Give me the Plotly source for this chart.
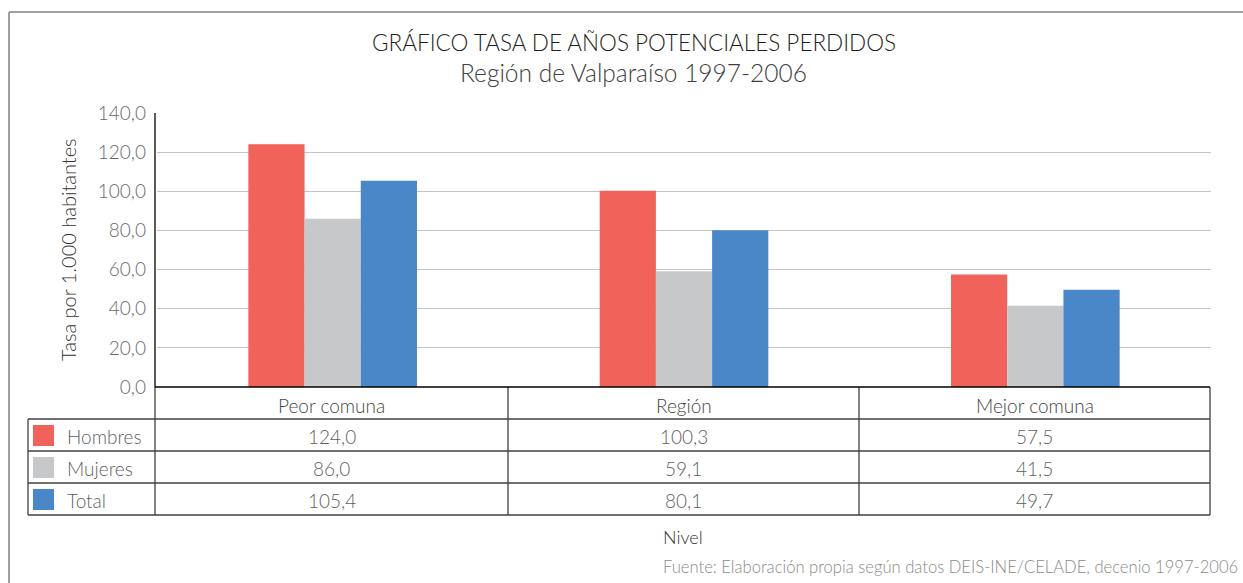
import plotly.graph_objects as go

categories = ["Peor comuna", "Región", "Mejor comuna"]
series_names = ["Hombres", "Mujeres", "Total"]
hombres = [124.0, 100.3, 57.5]
mujeres = [86.0, 59.1, 41.5]
total = [105.4, 80.1, 49.7]
series_values = [hombres, mujeres, total]
colors = ["#F1625A", "#C7C8CA", "#4A87C8"]
y_ticks = [0, 20, 40, 60, 80, 100, 120, 140]

W, H = 1243, 583
L, R, T, B = 157, 1211, 113, 387
FONT = "Lato"
TXT = "#5f5f5f"
LINE = "#404040"

def px(x):
    return (x - L) / (R - L)

def py(y):
    return (B - y) / (B - T)

def fmt(v):
    return f"{v:.1f}".replace(".", ",")

fig = go.Figure()
for name, vals, col in zip(series_names, series_values, colors):
    fig.add_trace(go.Bar(x=categories, y=vals, name=name, marker_color=col,
                         marker_line_width=0, showlegend=False))

shapes = []
ann = []

def text(t, x, y, size, color, xa="center", ya="middle", angle=0):
    ann.append(dict(text=t, x=px(x), y=py(y), xref="paper", yref="paper", showarrow=False,
                    xanchor=xa, yanchor=ya, textangle=angle,
                    font=dict(family=FONT, size=size, color=color, weight=300)))

def hline(x0, x1, y, color=LINE, width=1.3):
    shapes.append(dict(type="line", xref="paper", yref="paper", x0=px(x0), x1=px(x1), y0=py(y), y1=py(y),
                       line=dict(color=color, width=width)))

def vline(x, y0, y1, color=LINE, width=1.3):
    shapes.append(dict(type="line", xref="paper", yref="paper", x0=px(x), x1=px(x), y0=py(y0), y1=py(y1),
                       line=dict(color=color, width=width)))

# outer frame
hline(9, 1260, 12, color="#a0a0a0", width=2)
vline(9, 12, 600, color="#a0a0a0", width=2)

# table
row_edges = [387, 419, 451, 483, 515]
col_edges = [155, 508, 859, 1210]
for ye in row_edges[1:]:
    hline(28, 1210, ye)
vline(28, 419, 515)
for xe in col_edges:
    vline(xe, 387, 515)

# axis lines
hline(155, 1210, 387, color="black")
vline(155, 113, 387, color="black")

# header labels
for j, c in enumerate(categories):
    cx = (col_edges[j] + col_edges[j + 1]) / 2
    text(c, cx, 405, 19, "#454545")

# rows
for i, (name, vals, col) in enumerate(zip(series_names, series_values, colors)):
    top = row_edges[i + 1]
    cy = top + 17
    shapes.append(dict(type="rect", xref="paper", yref="paper", x0=px(33), x1=px(54), y0=py(top + 6), y1=py(top + 27),
                       fillcolor=col, line=dict(width=0)))
    text(name, 65, cy, 19, TXT, xa="left")
    for j, v in enumerate(vals):
        cx = (col_edges[j] + col_edges[j + 1]) / 2
        text(fmt(v), cx, cy, 19, TXT)

# titles
text("GRÁFICO TASA DE AÑOS POTENCIALES PERDIDOS", 634, 42, 22.5, "#1e1e1e")
text("Región de Valparaíso 1997-2006", 633, 72, 24.5, "#404040")
text("Tasa por 1.000 habitantes", 68, 250, 20, "#333", angle=-90)
text("Nivel", 683, 537, 18, "#333")
text("Fuente: Elaboración propia según datos DEIS-INE/CELADE, decenio 1997-2006", 1240, 567, 16.6,
     "#8a8a8a", xa="right")

fig.update_layout(
    width=W, height=H,
    margin=dict(l=L, r=W - R, t=T, b=H - B),
    paper_bgcolor="white", plot_bgcolor="white",
    barmode="group", bargap=0.52, bargroupgap=0,
    separators=",.",
    shapes=shapes, annotations=ann,
    showlegend=False,
    font=dict(family=FONT),
)
fig.update_xaxes(showticklabels=False, showline=False, ticks="", showgrid=False)
fig.update_yaxes(range=[0, 140], tickvals=y_ticks, tickformat=".1f", showgrid=True, gridcolor="#c4c4c4",
                 gridwidth=1.2, showline=False, zeroline=False,
                 ticks="", ticklabelstandoff=10,
                 tickfont=dict(family=FONT, size=19, color="#6a6a6a", weight=300))

fig.write_html("out.html", config={"displayModeBar": False},
               post_script="document.body.style.margin='0';document.body.style.overflow='hidden';")
